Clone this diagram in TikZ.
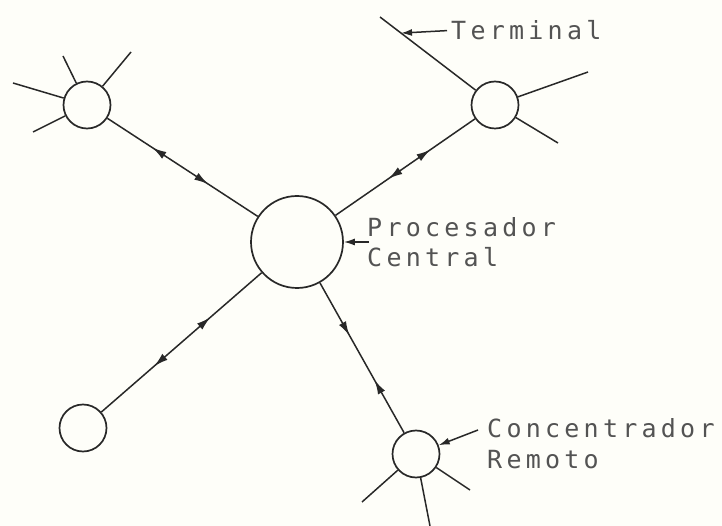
\documentclass[tikz,border=0pt]{standalone}
\usepackage{fontspec}
\newfontfamily\plotfont[LetterSpace=17]{DejaVu Sans Mono}
\usetikzlibrary{arrows.meta,decorations.markings}
\definecolor{ink}{RGB}{40,40,40}
\definecolor{paper}{RGB}{254,254,249}
\begin{document}
\begin{tikzpicture}[x=1pt,y=-1pt,
  hub/.style={circle,draw=ink,line width=1.7pt,minimum size=92pt,inner sep=0pt},
  sat/.style={circle,draw=ink,line width=1.7pt,minimum size=47pt,inner sep=0pt},
  wire/.style={draw=ink,line width=1.5pt},
  lbl/.style={font=\plotfont\fontsize{25}{25}\selectfont,text=ink!80,inner sep=0pt,anchor=base west},
  ptr/.style={wire,-{Latex[length=11pt,width=7pt]}},
  linkBF/.style 2 args={wire,postaction=decorate,decoration={markings,
     mark=at position #1 with {\arrowreversed{Latex[length=14pt,width=8pt]}},
     mark=at position #2 with {\arrow{Latex[length=14pt,width=8pt]}}}},
  linkFB/.style 2 args={wire,postaction=decorate,decoration={markings,
     mark=at position #1 with {\arrow{Latex[length=14pt,width=8pt]}},
     mark=at position #2 with {\arrowreversed{Latex[length=14pt,width=8pt]}}}}
]
\fill[paper] (0,0) rectangle (722,526);
\useasboundingbox (0,0) rectangle (722,526);

% nodes
\node[hub] (C) at (297,242) {};
\node[sat] (TL) at (87,105) {};
\node[sat] (TR) at (495,105) {};
\node[sat] (LL) at (83,428) {};
\node[sat] (BR) at (416,454) {};

% spoke ends
\coordinate (tl1) at (13,83);
\coordinate (tl2) at (63,56);
\coordinate (tl3) at (131,52);
\coordinate (tl4) at (33,132);
\coordinate (tr1) at (380,17);
\coordinate (tr2) at (588,72);
\coordinate (tr3) at (558,143);
\coordinate (br1) at (362,502);
\coordinate (br2) at (430,526);
\coordinate (br3) at (470,490);

% spokes
\draw[wire] (TL) -- (tl1);
\draw[wire] (TL) -- (tl2);
\draw[wire] (TL) -- (tl3);
\draw[wire] (TL) -- (tl4);
\draw[wire] (TR) -- coordinate[pos=0.78] (tpt) (tr1);
\draw[wire] (TR) -- (tr2);
\draw[wire] (TR) -- (tr3);
\draw[wire] (BR) -- (br1);
\draw[wire] (BR) -- (br2);
\draw[wire] (BR) -- (br3);

% links
\draw[linkBF={0.33}{0.70}] (C) -- (TL);
\draw[linkBF={0.38}{0.68}] (C) -- (TR);
\draw[linkBF={0.32}{0.67}] (C) -- (LL);
\draw[linkFB={0.35}{0.65}] (C) -- (BR);

% labels
\node[lbl] (term) at (451,40) {Terminal};
\node[lbl] (proc) at (367,237) {Procesador};
\node[lbl] (cent) at (367,267) {Central};
\node[lbl] (conc) at (487,437) {Concentrador};
\node[lbl] (remo) at (487,468) {Remoto};

\coordinate (pa) at (369,242);
\coordinate (ca) at (478,430);
\draw[ptr] ([xshift=-4pt]term.west) -- (tpt);
\draw[ptr] (pa) -- (C);
\draw[ptr] (ca) -- (BR);
\end{tikzpicture}
\end{document}
